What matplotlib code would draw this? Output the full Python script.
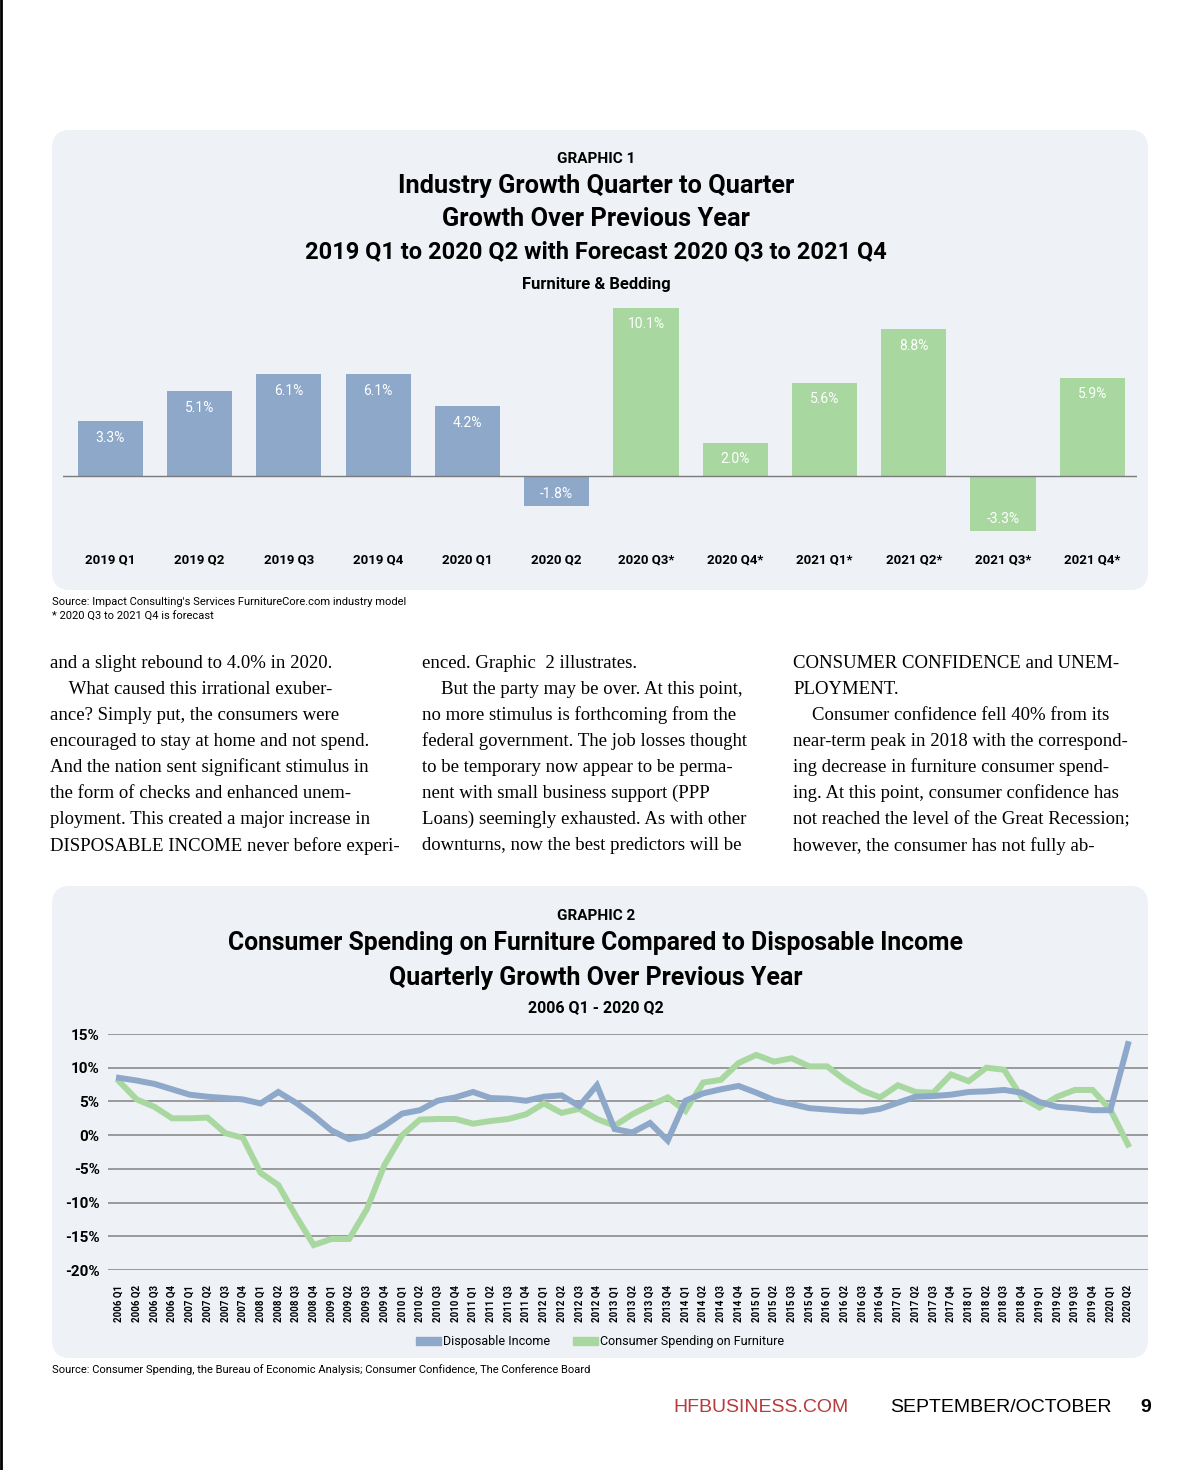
import numpy as np
import matplotlib.pyplot as plt
from matplotlib.patches import FancyBboxPatch, Patch
from matplotlib.transforms import blended_transform_factory

W, H = 1200, 1470

COND = ['Roboto', 'DejaVu Sans']
SERIF = ['Liberation Serif', 'DejaVu Serif']
SANS = ['Liberation Sans', 'DejaVu Sans']

BLUE = '#8EA8CA'
GREEN = '#A8D8A0'
PANEL = '#EEF1F6'

# graphic 1 - industry growth
bar_labels = ['2019 Q1', '2019 Q2', '2019 Q3', '2019 Q4', '2020 Q1', '2020 Q2',
              '2020 Q3*', '2020 Q4*', '2021 Q1*', '2021 Q2*', '2021 Q3*', '2021 Q4*']
bar_values = [3.3, 5.1, 6.1, 6.1, 4.2, -1.8, 10.1, 2.0, 5.6, 8.8, -3.3, 5.9]
bar_forecast = [False] * 6 + [True] * 6

# graphic 2 - quarterly growth, 2006 Q1 .. 2020 Q2
quarters = ['%d Q%d' % (y, q) for y in range(2006, 2021) for q in range(1, 5)][:58]
disposable_income = [8.5, 8.1, 7.6, 6.8, 6.0, 5.7, 5.5, 5.3, 4.7, 6.4,
                     4.8, 2.9, 0.7, -0.6, -0.1, 1.4, 3.2, 3.7, 5.1, 5.6,
                     6.4, 5.5, 5.4, 5.1, 5.7, 5.9, 4.3, 7.4, 0.9, 0.4,
                     1.8, -0.8, 5.1, 6.2, 6.8, 7.3, 6.3, 5.2, 4.6, 4.0,
                     3.8, 3.6, 3.5, 3.9, 4.8, 5.7, 5.8, 6.0, 6.4, 6.5,
                     6.7, 6.3, 4.9, 4.2, 4.0, 3.7, 3.7, 13.5]
furniture_spending = [8.0, 5.3, 4.2, 2.5, 2.5, 2.6, 0.3, -0.4, -5.6, -7.4,
                      -12.0, -16.3, -15.4, -15.4, -11.0, -4.4, 0.0, 2.3, 2.4, 2.4,
                      1.7, 2.1, 2.4, 3.1, 4.7, 3.3, 3.9, 2.4, 1.4, 3.1,
                      4.4, 5.6, 3.6, 7.8, 8.2, 10.7, 11.9, 10.9, 11.4, 10.2,
                      10.2, 8.2, 6.6, 5.6, 7.4, 6.4, 6.3, 9.0, 8.0, 10.0,
                      9.7, 5.6, 4.1, 5.7, 6.7, 6.7, 3.8, -1.4]

col1 = ["and a slight rebound to 4.0% in 2020.",
        "    What caused this irrational exuber-",
        "ance? Simply put, the consumers were",
        "encouraged to stay at home and not spend.",
        "And the nation sent significant stimulus in",
        "the form of checks and enhanced unem-",
        "ployment. This created a major increase in",
        "DISPOSABLE INCOME never before experi-"]
col2 = ["enced. Graphic  2 illustrates.",
        "    But the party may be over. At this point,",
        "no more stimulus is forthcoming from the",
        "federal government. The job losses thought",
        "to be temporary now appear to be perma-",
        "nent with small business support (PPP",
        "Loans) seemingly exhausted. As with other",
        "downturns, now the best predictors will be"]
col3 = ["CONSUMER CONFIDENCE and UNEM-",
        "PLOYMENT.",
        "    Consumer confidence fell 40% from its",
        "near-term peak in 2018 with the correspond-",
        "ing decrease in furniture consumer spend-",
        "ing. At this point, consumer confidence has",
        "not reached the level of the Great Recession;",
        "however, the consumer has not fully ab-"]


def fig_rect(x0, y0, x1, y1):
    return [x0 / W, 1 - y1 / H, (x1 - x0) / W, (y1 - y0) / H]


fig = plt.figure(figsize=(12, 14.7), dpi=100)
page = fig.add_axes([0, 0, 1, 1], zorder=0)
page.set_xlim(0, W)
page.set_ylim(H, 0)
page.axis('off')

page.plot([1, 1], [0, H], color='black', lw=2)

for y0, y1 in [(130, 590), (886, 1358)]:
    page.add_patch(FancyBboxPatch((52, y0), 1096, y1 - y0,
                                  boxstyle='round,pad=0,rounding_size=18',
                                  fc=PANEL, ec='none'))

# ---- graphic 1 titles
page.text(596, 159, 'GRAPHIC 1', ha='center', va='center', fontsize=11, family=COND, weight='bold')
page.text(596, 186, 'Industry Growth Quarter to Quarter', ha='center', va='center',
          fontsize=18.3, family=COND, weight='bold')
page.text(596, 219, 'Growth Over Previous Year', ha='center', va='center',
          fontsize=18.3, family=COND, weight='bold')
page.text(596, 252, '2019 Q1 to 2020 Q2 with Forecast 2020 Q3 to 2021 Q4', ha='center', va='center',
          fontsize=17, family=COND, weight='bold')
page.text(596, 284, 'Furniture & Bedding', ha='center', va='center', fontsize=12, family=COND, weight='bold')

ax1 = fig.add_axes(fig_rect(63, 300, 1137, 540), zorder=1)
ax1.patch.set_alpha(0)
colors = [GREEN if f else BLUE for f in bar_forecast]
xs = np.arange(len(bar_values))
ax1.bar(xs, bar_values, width=0.73, color=colors)
ax1.axhline(0, color='#7a7a7a', lw=1)
ax1.set_xlim(-0.53, 11.5)
ax1.set_ylim(-3.84, 10.57)
ax1.axis('off')
for i, v in enumerate(bar_values):
    off = -12 if v >= 0 else 9
    ax1.annotate('%.1f%%' % v, (i, v), xytext=(0, off), textcoords='offset points',
                 ha='center', va='center', color='white', fontsize=10, family=COND)

tr = blended_transform_factory(ax1.transData, page.transData)
for i, lab in enumerate(bar_labels):
    page.text(i, 560, lab, transform=tr, ha='center', va='center', fontsize=9.5,
              family=COND, weight='bold')

page.text(52, 602, "Source: Impact Consulting's Services FurnitureCore.com industry model",
          va='center', fontsize=8, family=COND)
page.text(52, 617, "* 2020 Q3 to 2021 Q4 is forecast", va='center', fontsize=8, family=COND)

# ---- body text
for x, lines in [(50, col1), (422, col2), (793, col3)]:
    for k, line in enumerate(lines):
        page.text(x, 663 + 26.1 * k, line, va='center', fontsize=13.5, family=SERIF)

# ---- graphic 2 titles
page.text(596, 916, 'GRAPHIC 2', ha='center', va='center', fontsize=11, family=COND, weight='bold')
page.text(596, 943, 'Consumer Spending on Furniture Compared to Disposable Income', ha='center',
          va='center', fontsize=17.8, family=COND, weight='bold')
page.text(596, 978, 'Quarterly Growth Over Previous Year', ha='center', va='center',
          fontsize=18, family=COND, weight='bold')
page.text(596, 1008, '2006 Q1 - 2020 Q2', ha='center', va='center', fontsize=11.5, family=COND, weight='bold')

ax2 = fig.add_axes(fig_rect(108, 1034, 1148, 1270), zorder=1)
ax2.patch.set_alpha(0)
qx = np.arange(len(quarters))
ax2.plot(qx, disposable_income, color=BLUE, lw=4.3, solid_joinstyle='miter', zorder=3)
ax2.plot(qx, furniture_spending, color=GREEN, lw=4.3, solid_joinstyle='miter', zorder=2)
ax2.set_xlim(-0.62, 58.13)
ax2.set_ylim(-20, 15)
ax2.set_yticks(range(-20, 16, 5))
ax2.set_yticklabels(['%d%%' % v for v in range(-20, 16, 5)], family=COND, weight='bold', fontsize=11)
ax2.yaxis.grid(True, color='#8a8a8a', lw=1.2)
ax2.set_axisbelow(True)
ax2.set_xticks(qx)
ax2.set_xticklabels(quarters, rotation=90, family=COND, weight='bold', fontsize=7)
ax2.tick_params(axis='y', length=0, pad=6)
ax2.tick_params(axis='x', length=0, pad=11)
for s in ax2.spines.values():
    s.set_visible(False)

handles = [Patch(color=BLUE, label='Disposable Income'),
           Patch(color=GREEN, label='Consumer Spending on Furniture')]
fig.legend(handles=handles, loc='center', bbox_to_anchor=(600 / W, 1 - 1342 / H), ncol=2,
           frameon=False, prop={'family': COND, 'size': 9}, handlelength=2.0, handleheight=0.6,
           handletextpad=0.2, columnspacing=1.8)

page.text(52, 1370, 'Source: Consumer Spending, the Bureau of Economic Analysis; Consumer Confidence, '
          'The Conference Board', va='center', fontsize=8, family=COND)

# ---- footer
page.text(673, 1407, 'HFBUSINESS.COM', va='center', fontsize=14, family=SANS, color='#B83A3C')
page.text(890, 1407, 'SEPTEMBER/OCTOBER', va='center', fontsize=14, family=SANS)
page.text(1140, 1407, '9', va='center', fontsize=14, family=SANS, weight='bold')

fig.savefig('out.png', dpi=100, facecolor='white')
